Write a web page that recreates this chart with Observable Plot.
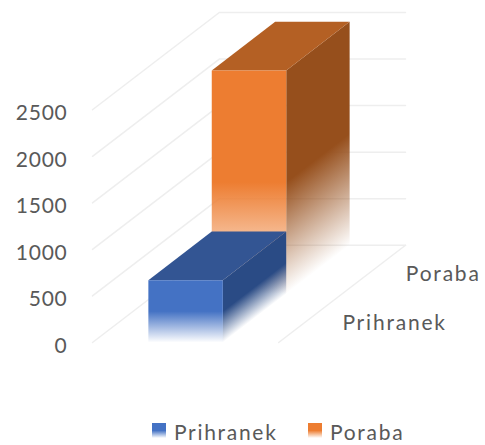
<!DOCTYPE html>
<html>
<head>
<meta charset="utf-8">
<script src="https://cdn.jsdelivr.net/npm/d3@7"></script>
<script src="https://cdn.jsdelivr.net/npm/@observablehq/plot@0.6"></script>
<style>
  html, body { margin: 0; padding: 0; background: #fff; overflow: hidden; }
  #legend { display: flex; align-items: center; margin-left: 152px; height: 30px;
    font: 21px Lato, sans-serif; letter-spacing: 1.7px; color: #595959; }
  #legend .sw { width: 14px; height: 15px; margin-right: 8px; flex: none; }
  #legend .lab { width: 134px; position: relative; top: 1px; flex: none; white-space: nowrap; }
</style>
</head>
<body>
<div id="chart"></div>
<div id="legend"></div>
<script>
const categories = ["Prihranek", "Poraba"];
const values = [670, 2400];
const tickValues = [0, 500, 1000, 1500, 2000, 2500];
const frontColors = ["#4472C4", "#ED7D31"];
const topColors = ["#335593", "#B46024"];
const sideColors = ["#2A4B85", "#964F1C"];

// oblique projection: depth d in [0,1] shifts along x (category units) and y (value units)
const depthX = 0.681, depthY = 1045;
const barStart = 0.30, barEnd = 0.70;
const pt = (u, v, d) => ({x: u + d * depthX, y: v + d * depthY});

const grid = [];
tickValues.forEach(t => {
  grid.push([pt(0, t, 0), pt(0, t, 1), pt(1, t, 1)]);
});
grid.push([pt(1, 0, 0), pt(1, 0, 1)]);

const faces = [];
categories.forEach((c, i) => {
  const d0 = i / categories.length, d1 = (i + 1) / categories.length, v = values[i];
  faces.push({
    fill: `url(#side${i})`,
    pts: [pt(barEnd, 0, d0), pt(barEnd, 0, d1), pt(barEnd, v, d1), pt(barEnd, v, d0)]
  });
  faces.push({
    fill: topColors[i],
    pts: [pt(barStart, v, d0), pt(barEnd, v, d0), pt(barEnd, v, d1), pt(barStart, v, d1)]
  });
  faces.push({
    fill: `url(#front${i})`,
    pts: [pt(barStart, 0, d0), pt(barEnd, 0, d0), pt(barEnd, v, d0), pt(barStart, v, d0)]
  });
});
// draw far series first
const order = [3, 4, 5, 0, 1, 2].map(i => faces[i]);

const catLabels = categories.map((c, i) => ({
  label: c, ...pt(1, 0, (i + 0.5) / categories.length)
}));

function gradient(id, color, x1 = 0, y1 = 0, x2 = 0, y2 = 1) {
  return `<linearGradient id="${id}" x1="${x1}" y1="${y1}" x2="${x2}" y2="${y2}">
    <stop offset="0" stop-color="${color}"/>
    <stop offset="0.5" stop-color="${color}"/>
    <stop offset="1" stop-color="${color}" stop-opacity="0"/>
  </linearGradient>`;
}
// side-face fade runs parallel to the sheared bottom edge of the face
function sideGradient(i) {
  const rise = depthY / categories.length;
  const k = rise / (values[i] + rise);
  const n = (1 - k) / (1 + k * k);
  return gradient(`side${i}`, sideColors[i], 0, k, k * n, k + n);
}
const defsMark = () => {
  const g = document.createElementNS("http://www.w3.org/2000/svg", "defs");
  g.innerHTML = categories.map((c, i) =>
    gradient(`front${i}`, frontColors[i]) + sideGradient(i)).join("");
  return g;
};

const chart = Plot.plot({
  width: 485,
  height: 415,
  marginLeft: 92,
  marginRight: 80,
  marginTop: 12,
  marginBottom: 73,
  style: {fontFamily: 'Lato, sans-serif', fontSize: "21px", letterSpacing: "0.75px", background: "transparent", overflow: "visible"},
  x: {domain: [0, 1 + depthX], axis: null},
  y: {domain: [0, 2500 + depthY], axis: null},
  marks: [
    defsMark,
    ...grid.map(g => Plot.line(g, {x: "x", y: "y", stroke: "#eeeeee", strokeWidth: 1.5})),
    ...order.map(f => Plot.line(f.pts, {x: "x", y: "y", fill: f.fill, stroke: "none"})),
    Plot.axisY(tickValues, {
      anchor: "left", tickSize: 0, tickPadding: 25, label: null, dy: 3.5,
      fill: "#595959", fontSize: 21, tickFormat: d => String(d)
    }),
    Plot.text(catLabels, {
      x: "x", y: "y", text: "label", textAnchor: "start", dx: 32, dy: 5,
      fill: "#595959", fontSize: 21, className: "catlabel"
    })
  ]
});
document.getElementById("chart").appendChild(chart);
chart.style.display = "block";
d3.select(chart).selectAll("g.catlabel").style("letter-spacing", "1.8px");

const legend = document.getElementById("legend");
categories.forEach((c, i) => {
  const sw = document.createElement("div");
  sw.className = "sw";
  sw.style.background = `linear-gradient(${frontColors[i]} 50%, ${frontColors[i]}00 100%)`;
  const lab = document.createElement("div");
  lab.className = "lab";
  lab.textContent = c;
  legend.append(sw, lab);
});
</script>
</body>
</html>
